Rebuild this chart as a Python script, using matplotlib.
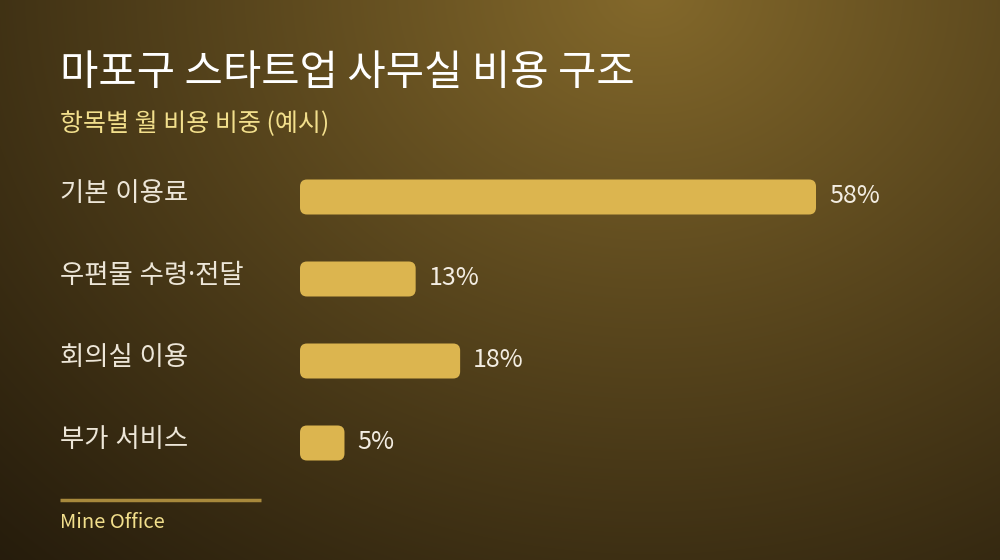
#!/usr/bin/env python3
"""
마포구 스타트업 사무실 비용 구조 - horizontal bar chart
"""
import numpy as np
import matplotlib
matplotlib.use('Agg')
import matplotlib.pyplot as plt
from matplotlib.patches import FancyBboxPatch

plt.rcParams['font.family'] = ['Noto Sans CJK KR', 'DejaVu Sans']

# data
categories = ['기본 이용료', '우편물 수령·전달', '회의실 이용', '부가 서비스']
shares = [58, 13, 18, 5]
title = '마포구 스타트업 사무실 비용 구조'
subtitle = '항목별 월 비용 비중 (예시)'
source = 'Mine Office'

W, H = 1000, 560
BAR_COLOR = '#dcb54f'

fig = plt.figure(figsize=(W / 100, H / 100), dpi=100)

# background radial glow (bright near top centre-right)
bg = fig.add_axes([0, 0, 1, 1])
yy, xx = np.mgrid[0:H, 0:W]
d = np.sqrt(((xx - 650) / 1.2) ** 2 + (yy + 10) ** 2)
f = np.clip(1 - d / 820, 0, 1)
f = f ** 1.1
dark = np.array([0x23, 0x1a, 0x0b]) / 255
bright = np.array([0x84, 0x69, 0x2b]) / 255
img = dark + (bright - dark) * f[..., None]
bg.imshow(img, extent=[0, W, H, 0], aspect='auto', interpolation='bilinear')
bg.set_xlim(0, W)
bg.set_ylim(H, 0)
bg.axis('off')

# bar axes: x in percent, y in category index
px_per_pct = 516 / 58
x0, x1 = 300, 300 + 70 * px_per_pct
y_top, y_bot = 156, 484
ax = fig.add_axes([x0 / W, 1 - y_bot / H, (x1 - x0) / W, (y_bot - y_top) / H])
ax.set_xlim(0, 70)
ax.set_ylim(len(categories) - 0.5, -0.5)
ax.axis('off')
ax.patch.set_alpha(0)

bar_h = 35 / 82
radius_px = 7
rs = radius_px / px_per_pct
aspect = px_per_pct / 82
for i, (cat, v) in enumerate(zip(categories, shares)):
    box = FancyBboxPatch((0, i - bar_h / 2), v, bar_h,
                         boxstyle=f'round,pad=0,rounding_size={rs}',
                         mutation_aspect=aspect,
                         fc=BAR_COLOR, ec='none')
    ax.add_patch(box)
    ax.text(v + 13 / px_per_pct, i - 0.01, f'{v}%', color='#f3ede2',
            fontsize=18, va='center', ha='left')
    # Noto Sans first so the middle dot stays narrow, Hangul falls back to CJK
    fig.text(60 / W, 1 - (194 + i * 82) / H, cat, color='#ede6d8',
             fontsize=19, va='center', ha='left',
             family=['Noto Sans', 'Noto Sans CJK KR'])

fig.text(60 / W, 1 - 73 / H, title, color='white', fontsize=30,
         fontweight='medium', va='center', ha='left')
fig.text(60 / W, 1 - 124 / H, subtitle, color='#f2df8c', fontsize=18,
         va='center', ha='left')

bg.plot([60, 261], [499.5, 499.5], color='#a8893c', lw=2.5,
        solid_capstyle='butt')
fig.text(60 / W, 1 - 523 / H, source, color='#f2df8c', fontsize=14.5,
         va='center', ha='left')

fig.savefig('out.png', dpi=100)
